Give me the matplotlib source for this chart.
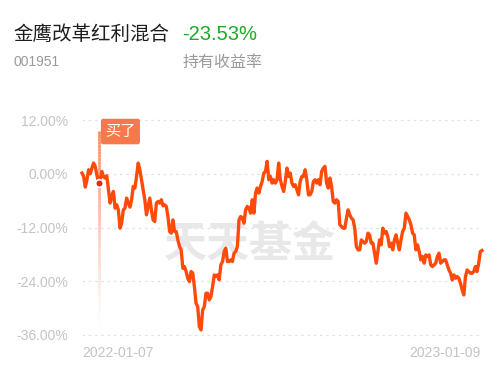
import matplotlib
matplotlib.use("Agg")
import matplotlib.pyplot as plt
import numpy as np
from matplotlib.collections import LineCollection

fund_name = "金鹰改革红利混合"
fund_code = "001951"
hold_return = "-23.53%"
hold_label = "持有收益率"
buy_label = "买了"
watermark = "天天基金"
x_labels = ["2022-01-07", "2023-01-09"]
y_ticks = [12, 0, -12, -24, -36]

returns = [
    0.15, -0.60, -2.98, -1.34, 0.89, 0.00, 1.27, 2.39, 1.64, -0.22,
    -2.09, -1.34, 0.52, -0.60, -0.97, -0.45, -3.58, -6.56, -5.07, -3.95,
    -7.68, -6.93, -8.05, -12.15, -11.03, -8.05, -7.68, -5.44, -6.56, -7.45,
    -5.81, -2.83, -3.20, -0.60, 2.39, 0.89, -1.34, -3.58, -5.81, -9.17,
    -7.30, -5.44, -8.05, -10.29, -10.66, -6.56, -6.19, -6.56, -5.81, -7.16,
    -6.93, -7.30, -9.54, -12.89, -13.27, -10.29, -12.89, -12.89, -14.76, -16.25,
    -16.99, -21.09, -20.72, -21.84, -23.33, -24.07, -21.84, -22.21, -25.19, -28.92,
    -29.66, -34.14, -34.88, -30.41, -29.66, -26.68, -26.68, -28.17, -27.43, -25.19,
    -22.58, -22.96, -22.58, -23.70, -20.35, -19.60, -17.37, -16.62, -19.60, -19.60,
    -19.23, -19.60, -17.74, -17.37, -16.25, -10.29, -9.54, -9.91, -11.03, -8.05,
    -7.30, -7.68, -8.79, -5.81,
    -8.79, -4.32, -3.20, -4.32, -2.83, -1.71, 0.15, 0.52, 2.76, -1.34,
    -0.60, -2.09, -1.34, -2.09, -1.34, 2.39, -1.34, -2.83, -3.95, -1.71,
    1.27, -0.60, 0.15, -2.09, -2.83, -2.46, -3.58, -4.70, -1.71, -0.60,
    -0.60, 0.89, -1.34, -4.70, -4.70, -3.95, -1.71, -1.34, -2.09, -1.34,
    -2.46, 0.52, 1.27, 1.64, -2.09, -3.20, -0.97, -2.83, -6.19, -6.56,
    -5.81, -6.19, -11.40, -11.78, -12.15, -12.15, -9.91, -8.05, -9.17, -9.91,
    -10.29, -12.15, -16.25, -16.99, -16.99, -14.76, -15.13, -15.50, -15.13, -13.27,
    -13.64, -15.50, -15.50, -17.74, -19.97, -17.37, -14.76, -15.87, -12.15, -13.27,
    -12.89, -14.01, -16.25, -15.50, -16.99, -14.76, -13.64, -15.50, -16.99, -14.76,
    -12.89, -12.15, -8.79, -9.54, -10.29, -11.40, -13.27, -13.64, -16.99, -15.87,
    -17.37, -19.23, -18.48, -19.97, -18.11, -18.48, -18.11, -20.35, -20.72, -20.35,
    -19.97, -18.48, -17.74, -19.97, -19.60, -19.23, -19.23, -20.35, -21.47, -22.21,
    -23.70, -22.58, -23.33, -22.96, -23.33, -24.45, -25.94, -27.05, -22.96, -21.47,
    -21.84, -22.21, -22.21, -21.84, -20.72, -21.84, -19.97, -17.37, -17.14,
]
buy_index = 10

CJK = ["Noto Sans CJK SC", "DejaVu Sans"]
LAT = ["Liberation Sans", "DejaVu Sans"]

fig = plt.figure(figsize=(5.0, 3.67), dpi=100)
fig.patch.set_facecolor("white")
W, H = 500, 367
left, right, top, bottom = 82, 482, 120, 335
ax = fig.add_axes([left / W, 1 - bottom / H, (right - left) / W, (bottom - top) / H])
x = np.arange(len(returns))
ax.set_xlim(0, len(returns) - 1)
ax.set_ylim(-36, 12)
for s in ax.spines.values():
    s.set_visible(False)
ax.set_xticks([])
ax.set_yticks(y_ticks)
ax.set_yticklabels([f"{v:.2f}%" for v in y_ticks], fontfamily=LAT, fontsize=10, color="#c4c4c4")
ax.tick_params(axis="y", length=0, pad=10)
for v in y_ticks:
    ax.axhline(v, color="#e2e2e2", lw=0.9, ls=(0, (2, 3)), zorder=1, clip_on=False)

# watermark
ax.text(0.42, 0.42, watermark, transform=ax.transAxes, ha="center", va="center",
        fontsize=31, fontweight="bold", color="#e8e8e8", family=CJK, zorder=1)

# buy marker gradient line
y_top, y_bot = 9.5, -34.5
n = 60
ys = np.linspace(y_top, y_bot, n + 1)
segs = [[(buy_index, ys[i]), (buy_index, ys[i + 1])] for i in range(n)]
alphas = np.linspace(0.9, 0.0, n) ** 1.2
cols = [(0.97, 0.47, 0.30, a) for a in alphas]
ax.add_collection(LineCollection(segs, colors=cols, linewidths=2.0, zorder=2))

ax.plot(x, returns, color="#ff4a0a", lw=2.4, zorder=3, solid_joinstyle="round", clip_on=False)
ax.plot([buy_index], [returns[buy_index]], "o", ms=5.5, mfc="#e8261a", mec="white", mew=1.2, zorder=4)

ax.annotate(buy_label, xy=(buy_index, 12), xytext=(4.8, -8.3), textcoords="offset points",
            ha="left", va="center", fontsize=11, color="white", family=CJK, zorder=5,
            bbox=dict(boxstyle="round,pad=0.28,rounding_size=0.15", fc="#f7784a", ec="none"))

# x labels
fig.text(left / W, 1 - 353 / H, x_labels[0], ha="left", va="center", fontsize=10, color="#c4c4c4", family=LAT)
fig.text(481 / W, 1 - 353 / H, x_labels[1], ha="right", va="center", fontsize=10, color="#c4c4c4", family=LAT)

# header
fig.text(13 / W, 1 - 34 / H, fund_name, ha="left", va="center", fontsize=14, color="#1e1e1e", family=CJK)
fig.text(182 / W, 1 - 34 / H, hold_return, ha="left", va="center", fontsize=14.5, color="#1eaa28", family=LAT)
fig.text(13 / W, 1 - 62 / H, fund_code, ha="left", va="center", fontsize=10, color="#9a9a9a", family=LAT)
fig.text(183 / W, 1 - 62 / H, hold_label, ha="left", va="center", fontsize=11.5, color="#9a9a9a", family=CJK)

fig.savefig("out.png", dpi=100, facecolor="white")
